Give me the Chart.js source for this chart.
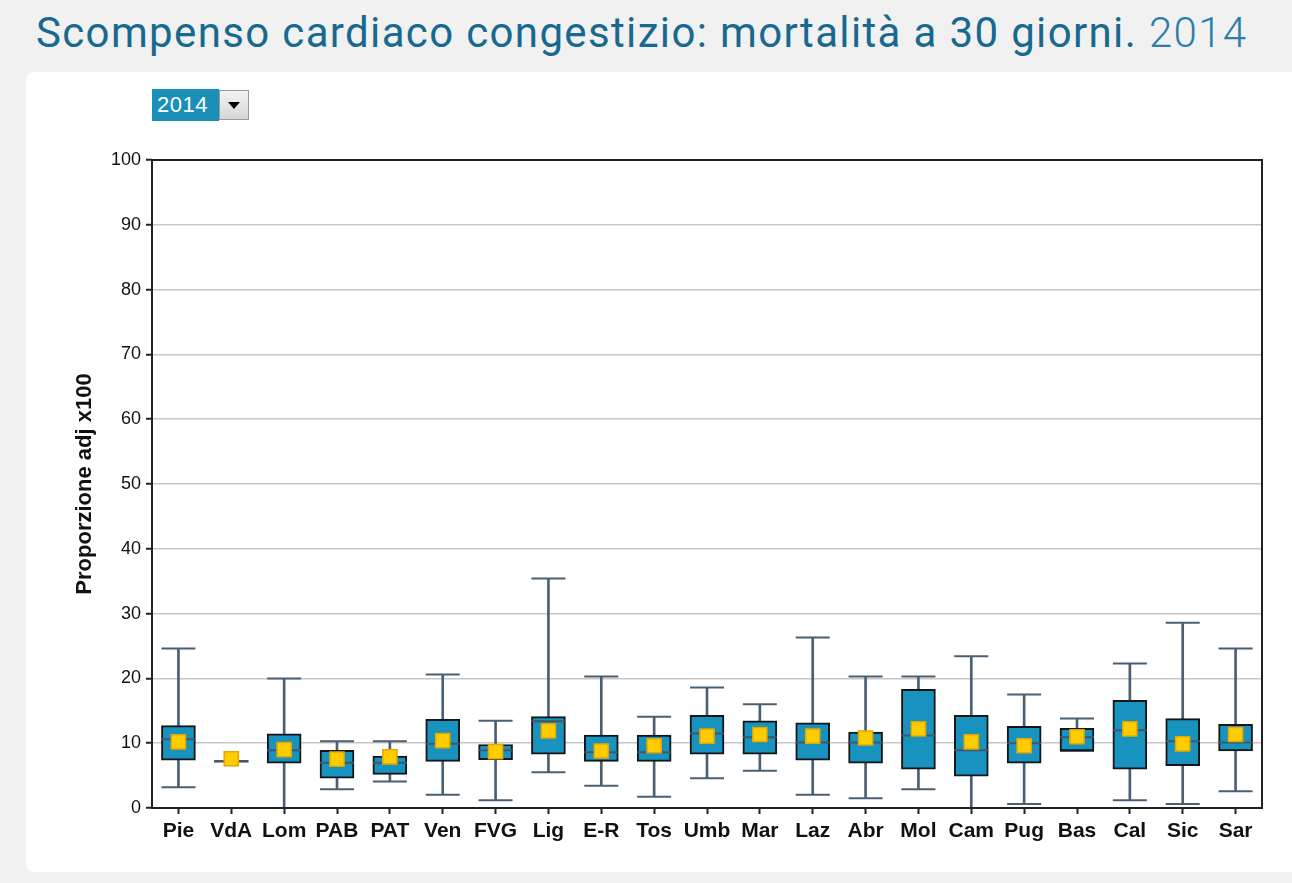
<!DOCTYPE html>
<html lang="it">
<head>
<meta charset="utf-8">
<title>Scompenso cardiaco congestizio</title>
<script src="https://cdn.jsdelivr.net/npm/chart.js@4.4.1/dist/chart.umd.min.js"></script>
<style>
  html, body { margin: 0; padding: 0; }
  body { width: 1292px; height: 883px; background: #f1f1f1; position: relative; overflow: hidden; font-family: Roboto, 'Liberation Sans', sans-serif; }
  h1 { position: absolute; left: 36px; top: 8px; margin: 0; font-size: 42px; line-height: 1.17; font-weight: 400; color: #17698f; white-space: nowrap; letter-spacing: 1.35px; }
  h1 .yr { font-weight: 300; color: #2a7ea8; }
  .card { position: absolute; left: 26px; top: 72px; width: 1266px; height: 800px; background: #fff; border-radius: 8px 0 0 8px; }
  .sel { position: absolute; left: 152px; top: 89px; height: 32px; display: flex; font-family: 'Liberation Sans', Arial, sans-serif; }
  .sel .val { background: #1a8fb7; color: #fff; font-size: 22px; line-height: 32px; padding: 0 4px 0 5px; width: 58px; letter-spacing: 0.5px; }
  .sel .btn { width: 28px; height: 28px; margin-top: 1px; border: 1px solid #9a9a9a; background: linear-gradient(#f4f4f4, #d6d6d6); position: relative; }
  .sel .btn::after { content: ''; position: absolute; left: 8px; top: 11px; border-left: 6px solid transparent; border-right: 6px solid transparent; border-top: 7px solid #000; }
  .wrap { position: absolute; left: 60px; top: 141px; width: 1221px; height: 709px; }
</style>
</head>
<body>
<h1>Scompenso cardiaco congestizio: mortalità a 30 giorni. <span class="yr">2014</span></h1>
<div class="card"></div>
<div class="sel"><div class="val">2014</div><div class="btn"></div></div>
<div class="wrap"><canvas id="chart"></canvas></div>
<script>
// regioni e statistiche del box (proporzione adj x100)
const regions = ['Pie', 'VdA', 'Lom', 'PAB', 'PAT', 'Ven', 'FVG', 'Lig', 'E-R', 'Tos', 'Umb', 'Mar', 'Laz', 'Abr', 'Mol', 'Cam', 'Pug', 'Bas', 'Cal', 'Sic', 'Sar'];
const whiskerLow = [3.2, 7.2, 0, 2.9, 4.1, 2.05, 1.2, 5.5, 3.45, 1.75, 4.6, 5.75, 2.05, 1.5, 2.9, 0, 0.6, 8.8, 1.2, 0.6, 2.6];
const q1 = [7.4, null, 6.9, 4.6, 5.2, 7.2, 7.45, 8.3, 7.2, 7.2, 8.3, 8.3, 7.4, 6.9, 6.0, 4.9, 6.9, 8.8, 6.0, 6.55, 8.8];
const medians = [10.6, 7.2, 8.9, 7.0, 7.0, 9.9, 8.9, 13.4, 8.6, 8.6, 11.5, 10.9, 10.1, 10.1, 11.2, 8.9, 10.0, 10.9, 12.0, 10.3, 10.1];
const q3 = [12.7, null, 11.45, 8.9, 8.0, 13.7, 9.8, 14.1, 11.25, 11.25, 14.3, 13.45, 13.15, 11.7, 18.3, 14.3, 12.6, 12.3, 16.6, 13.8, 12.9];
const whiskerHigh = [24.6, 7.2, 20.0, 10.3, 10.3, 20.6, 13.45, 35.4, 20.3, 14.1, 18.6, 16.0, 26.3, 20.3, 20.3, 23.4, 17.5, 13.8, 22.3, 28.6, 24.6];
const means = [10.2, 7.6, 9.0, 7.55, 7.9, 10.4, 8.7, 11.9, 8.8, 9.6, 11.1, 11.35, 11.1, 10.8, 12.2, 10.2, 9.6, 11.0, 12.2, 9.9, 11.35];
const yTicks = [0, 10, 20, 30, 40, 50, 60, 70, 80, 90, 100];

const WHISKER = '#4a5f73';
const BOX_W = 34;

const boxes = regions.map((_, i) => (q1[i] == null ? null : [q1[i], q3[i]]));
const whiskers = regions.map((_, i) => [whiskerLow[i], whiskerHigh[i]]);

const frame = {
  id: 'frame',
  afterDraw(chart) {
    const { ctx, chartArea: a } = chart;
    ctx.save();
    ctx.strokeStyle = '#222';
    ctx.lineWidth = 2;
    ctx.strokeRect(a.left, a.top, a.right - a.left, a.bottom - a.top);
    ctx.restore();
  },
};

const capStyle = { type: 'line', showLine: false, pointStyle: 'line', pointRadius: BOX_W / 2, borderColor: WHISKER, borderWidth: 2, clip: false };

new Chart(document.getElementById('chart'), {
  type: 'bar',
  data: {
    labels: regions,
    datasets: [
      { type: 'line', label: 'Media', data: means, showLine: false, pointStyle: 'rect', pointRadius: 10,
        backgroundColor: '#ffcc00', borderColor: '#e3a900', borderWidth: 1.5, order: 0, clip: false },
      { ...capStyle, label: 'Mediana', data: medians, borderColor: '#415669', order: 1 },
      { label: 'Box', data: boxes, grouped: false, barThickness: BOX_W, backgroundColor: '#1892bf',
        borderColor: '#151515', borderWidth: 2, borderSkipped: false, order: 2 },
      { ...capStyle, label: 'Max', data: whiskerHigh, order: 3 },
      { ...capStyle, label: 'Min', data: whiskerLow, order: 3 },
      { label: 'Baffi', data: whiskers, grouped: false, barThickness: 2, backgroundColor: WHISKER, borderWidth: 0, order: 4 },
    ],
  },
  options: {
    responsive: true, maintainAspectRatio: false, animation: false,
    layout: { padding: { top: 9, right: 9, bottom: 0, left: 0 } },
    plugins: { legend: { display: false }, tooltip: { enabled: false } },
    scales: {
      x: {
        border: { display: false },
        grid: { offset: false, drawOnChartArea: false, drawTicks: true, tickLength: 6, tickColor: '#222', tickWidth: 2 },
        ticks: { color: '#111', padding: 5, maxRotation: 0, autoSkip: false, font: { family: "'Liberation Sans', Arial, sans-serif", size: 21, weight: 'bold' } },
        afterFit: (s) => { s.height = 42; },
      },
      y: {
        min: 0, max: 100,
        afterBuildTicks: (s) => { s.ticks = yTicks.map((v) => ({ value: v })); },
        border: { display: false },
        grid: { color: '#c8c8c8', lineWidth: 1.5, tickLength: 6, tickColor: '#222', tickWidth: 2 },
        ticks: { color: '#111', padding: 5, font: { family: "'Liberation Sans', Arial, sans-serif", size: 18 } },
        title: { display: true, text: 'Proporzione adj x100', color: '#111', padding: { top: 12, bottom: 0 },
          font: { family: "'Liberation Sans', Arial, sans-serif", size: 22, weight: 'bold' } },
        afterFit: (s) => { s.width = 92; },
      },
    },
  },
  plugins: [frame],
});
</script>
</body>
</html>
